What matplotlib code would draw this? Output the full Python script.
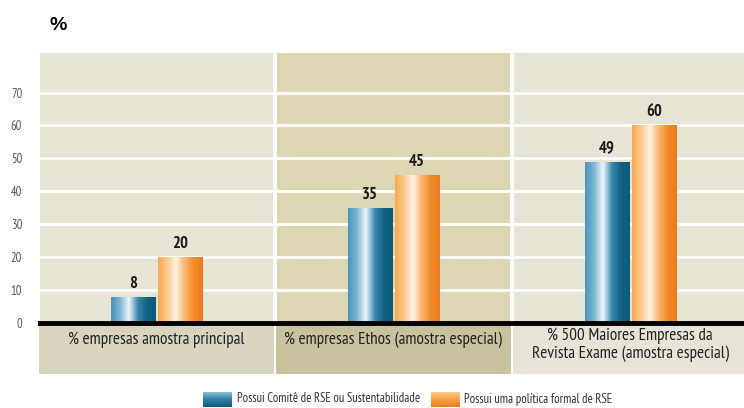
import numpy as np
import matplotlib
matplotlib.use('Agg')
import matplotlib.pyplot as plt
from matplotlib.colors import LinearSegmentedColormap
from matplotlib.patches import Rectangle

plt.rcParams['font.family'] = ['PT Sans Narrow', 'DejaVu Sans']

categories = ['% empresas amostra principal',
              '% empresas Ethos (amostra especial)',
              '% 500 Maiores Empresas da\nRevista Exame (amostra especial)']
comite = [8, 35, 49]
politica = [20, 45, 60]
series_names = ['Possui Comitê de RSE ou Sustentabilidade',
                'Possui uma política formal de RSE']
yticks = [0, 10, 20, 30, 40, 50, 60, 70]

panel_top = ['#e6e4d5', '#ddd6b3', '#e6e4d5']
panel_band = ['#d8d4bf', '#c9c29f', '#e6e4d7']

blue_cm = LinearSegmentedColormap.from_list(
    'b', ['#4b92b8', '#7db6d3', '#eef6fa', '#3a87ad', '#0f6384', '#0b5a78'])
orange_cm = LinearSegmentedColormap.from_list(
    'o', ['#f8a850', '#fcc98a', '#fff4e6', '#f9b46a', '#f28b2c', '#ec7a1c'])

fig = plt.figure(figsize=(7.44, 4.08), dpi=100)
W, H = 744, 408
ax = fig.add_axes([38 / W, 1 - 374 / H, (744 - 38) / W, (374 - 53) / H])
ax.set_facecolor('white')
ymin, ymax = -15.5, 82
ax.set_ylim(ymin, ymax)
ax.set_xlim(-0.5, 2.48)

x = np.arange(len(categories))
gap = 0.008
for i in x:
    ax.add_patch(Rectangle((i - 0.5 + gap, 0), 1 - 2 * gap, ymax,
                           facecolor=panel_top[i], edgecolor='none', zorder=0))
    ax.add_patch(Rectangle((i - 0.5 + gap / 2, ymin), 1 - gap, -ymin,
                           facecolor=panel_band[i], edgecolor='none', zorder=0))
    ly = -6.6 if '\n' in categories[i] else -5.0
    ax.text(i, ly, categories[i], ha='center', va='center', fontsize=12.3,
            color='#222222', linespacing=1.1)

for t in yticks[1:]:
    ax.axhline(t, color='white', lw=2, zorder=1)

bw = 0.186
off = 0.1
grad = np.linspace(0, 1, 256).reshape(1, -1)
for vals, dx, cm in [(comite, -off, blue_cm), (politica, off, orange_cm)]:
    bars = ax.bar(x + dx, vals, bw, color='none', edgecolor='none', zorder=2)
    for b, v in zip(bars, vals):
        x0, w, h = b.get_x(), b.get_width(), b.get_height()
        im = ax.imshow(grad, cmap=cm, aspect='auto',
                       extent=(x0, x0 + w, 0, h), zorder=2)
        im.set_clip_path(b)
        ax.text(x0 + w / 2, h + 1.5, str(v), ha='center', va='bottom',
                fontsize=12, fontweight='bold', color='#1a1a1a')

ax.axhline(0, color='black', lw=3.5, zorder=3)

ax.set_yticks(yticks)
ax.set_yticklabels([str(t) for t in yticks], fontsize=9, color='#555555')
ax.tick_params(axis='y', length=0, pad=11.5)
ax.set_xticks([])
for s in ax.spines.values():
    s.set_visible(False)

fig.text(50 / W, 1 - 25 / H, '%', fontsize=14, fontweight='bold',
         ha='left', va='center', family=['Liberation Sans', 'DejaVu Sans'])

# legend
lax = fig.add_axes([0, 0, 1, 1])
lax.axis('off')
vgrad = np.linspace(0, 1, 64).reshape(-1, 1)
leg_blue = LinearSegmentedColormap.from_list('lb', ['#8cc0da', '#2f7fa6', '#0b5a78'])
leg_orange = LinearSegmentedColormap.from_list('lo', ['#fcc98a', '#f6a24c', '#ec7a1c'])
for (px, cm, name, tx) in [(203, leg_blue, series_names[0], 237),
                           (431, leg_orange, series_names[1], 464)]:
    lax.imshow(vgrad, cmap=cm, aspect='auto', extent=(px, px + 29, 407, 392))
    lax.text(tx, 399, name, fontsize=9.1, va='center', ha='left', color='#333333')
lax.set_xlim(0, W)
lax.set_ylim(H, 0)

fig.savefig('out.png', dpi=100)
